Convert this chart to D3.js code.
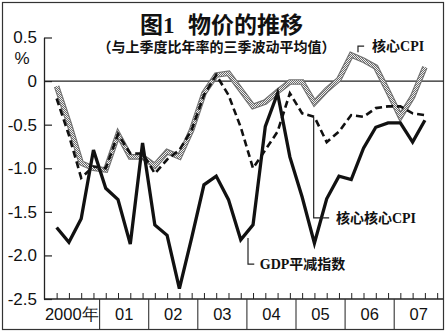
<!DOCTYPE html>
<html>
<head>
<meta charset="utf-8">
<script src="https://cdn.jsdelivr.net/npm/d3@7"></script>
<style>
  html, body { margin: 0; padding: 0; background: #fff; }
  svg { display: block; }
  .num { font-family: "Liberation Sans", Arial, sans-serif; fill: #111; }
  .cjk { font-family: "Liberation Serif", "Noto Sans CJK SC", serif; fill: #111; font-weight: bold; }
</style>
</head>
<body>
<svg id="chart" width="446" height="332"></svg>
<script>
// Quarterly series, 2000Q1 – 2007Q3, % (three-quarter moving average of annualised q/q change)
const coreCPI = [-0.06, -0.48, -0.94, -1.00, -1.02, -0.61, -0.87, -0.87, -0.97, -0.81, -0.87,
                 -0.56, -0.14, 0.07, 0.09, -0.10, -0.29, -0.24, -0.12, -0.01, -0.01, -0.25,
                 -0.10, 0.02, 0.30, 0.24, 0.16, -0.12, -0.41, -0.18, 0.16];
const coreCoreCPI = [-0.20, -0.62, -1.11, -0.98, -1.00, -0.61, -0.83, -0.83, -1.06, -0.90, -0.79,
                     -0.56, -0.16, 0.07, -0.16, -0.53, -1.00, -0.79, -0.58, -0.14, -0.37, -0.41,
                     -0.70, -0.58, -0.39, -0.41, -0.31, -0.29, -0.29, -0.37, -0.39];
const gdpDeflator = [-1.68, -1.85, -1.58, -0.79, -1.23, -1.36, -1.87, -0.71, -1.65, -1.77, -2.38,
                     -1.80, -1.19, -1.09, -1.36, -1.82, -1.65, -0.52, -0.14, -0.87, -1.33, -1.86,
                     -1.35, -1.09, -1.13, -0.77, -0.53, -0.48, -0.48, -0.70, -0.45];
const yearLabels = ["2000年", "01", "02", "03", "04", "05", "06", "07"];
const yTicks = [0.5, 0, -0.5, -1.0, -1.5, -2.0, -2.5];
const yTickLabels = ["0.5", "0", "-0.5", "-1.0", "-1.5", "-2.0", "-2.5"];

const svg = d3.select("#chart");
const axisX = 44, rightX = 443.3, bottomY = 299, frameBottom = 329;

// x: quarter index from 2000Q1 (points sit at quarter centres)
const x = d3.scaleLinear().domain([0, 32]).range([50.5, rightX]);
const y = d3.scaleLinear().domain([-2.5, 0.5]).range([bottomY, 37.5]);

// checkered texture for the core CPI line
const defs = svg.append("defs");
const pat = defs.append("pattern").attr("id", "checker")
  .attr("width", 2).attr("height", 2).attr("patternUnits", "userSpaceOnUse");
pat.append("rect").attr("width", 2).attr("height", 2).attr("fill", "#f0f0f0");
pat.append("rect").attr("width", 1).attr("height", 1).attr("fill", "#6a6a6a");
pat.append("rect").attr("x", 1).attr("y", 1).attr("width", 1).attr("height", 1).attr("fill", "#6a6a6a");

// outer frame
svg.append("rect").attr("x", 2.5).attr("y", 2.5).attr("width", 441).attr("height", 327)
  .attr("fill", "none").attr("stroke", "#333").attr("stroke-width", 1.2);

// title
const title = svg.append("text").attr("class", "cjk").attr("x", 140).attr("y", 33)
  .attr("font-size", 23);
title.append("tspan").text("图1");
title.append("tspan").attr("dx", 13.5).text("物价的推移");
svg.append("text").attr("class", "cjk").attr("x", 216.5).attr("y", 52)
  .attr("text-anchor", "middle").attr("font-size", 14)
  .text("（与上季度比年率的三季波动平均值）");

// y axis (ticks point into the plot)
const yAxis = d3.axisLeft(y).tickValues(yTicks)
  .tickFormat((d, i) => yTickLabels[i])
  .tickSizeInner(-8).tickSizeOuter(0).tickPadding(7);
const gy = svg.append("g").attr("transform", `translate(${axisX},0)`).call(yAxis);
gy.select(".domain").attr("stroke", "#222").attr("stroke-width", 1.3);
gy.selectAll(".tick line").attr("stroke", "#222").attr("stroke-width", 1.2);
gy.selectAll(".tick text").attr("class", "num").attr("font-size", 17).attr("fill", "#111");
svg.append("text").attr("class", "num").attr("x", 22).attr("y", 64)
  .attr("text-anchor", "middle").attr("font-size", 17).text("%");

// zero line
svg.append("line").attr("x1", axisX).attr("x2", rightX).attr("y1", y(0)).attr("y2", y(0))
  .attr("stroke", "#222").attr("stroke-width", 1.4);

// x axis: quarterly ticks pointing up, year bands below
const xAxis = d3.axisBottom(x).tickValues(d3.range(32).map(q => q + 0.5))
  .tickFormat("").tickSizeInner(-6).tickSizeOuter(0);
const gx = svg.append("g").attr("transform", `translate(0,${bottomY})`).call(xAxis);
gx.select(".domain").remove();
gx.selectAll(".tick line").attr("stroke", "#222").attr("stroke-width", 1);
svg.append("line").attr("x1", axisX).attr("x2", rightX).attr("y1", bottomY).attr("y2", bottomY)
  .attr("stroke", "#222").attr("stroke-width", 1.3);

const years = yearLabels.map((label, i) => ({
  label,
  x0: i === 0 ? axisX : x(i * 4),
  x1: x((i + 1) * 4)
}));
svg.selectAll("line.yeardiv").data(years.slice(0, -1)).join("line")
  .attr("class", "yeardiv")
  .attr("x1", d => d.x1).attr("x2", d => d.x1)
  .attr("y1", bottomY).attr("y2", frameBottom)
  .attr("stroke", "#333").attr("stroke-width", 1.1);
svg.selectAll("text.year").data(years).join("text")
  .attr("class", "num year")
  .attr("x", d => (d.x0 + d.x1) / 2).attr("y", 319.5)
  .attr("text-anchor", "middle").attr("font-size", 16.5)
  .text(d => d.label);

// series
const line = d3.line().x((d, i) => x(i + 0.5)).y(d => y(d));
const paths = svg.append("g").attr("fill", "none")
  .attr("stroke-linejoin", "miter").attr("stroke-linecap", "butt");
paths.append("path").datum(coreCPI).attr("d", line)
  .attr("stroke", "#707070").attr("stroke-width", 5.6);
paths.append("path").datum(coreCPI).attr("d", line)
  .attr("stroke", "url(#checker)").attr("stroke-width", 3.4);
paths.append("path").datum(coreCoreCPI).attr("d", line)
  .attr("stroke", "#111").attr("stroke-width", 2.6).attr("stroke-dasharray", "7,4");
paths.append("path").datum(gdpDeflator).attr("d", line)
  .attr("stroke", "#111").attr("stroke-width", 3.3);

// series labels with leader lines (positions in data units)
const notes = [
  { text: "核心CPI", qx: 25.05, v0: 0.33, v1: 0.40, qEnd: 25.55, qText: 26.2, baseDy: 5 },
  { text: "核心核心CPI", qx: 21.44, v0: -0.41, v1: -1.57, qEnd: 22.7, qText: 23.25, baseDy: 5 },
  { text: "GDP平减指数", qx: 16.09, v0: -1.80, v1: -2.10, qEnd: 16.6, qText: 17.05, baseDy: 5 }
];
svg.selectAll("path.leader").data(notes).join("path")
  .attr("class", "leader").attr("fill", "none").attr("stroke", "#222").attr("stroke-width", 1.2)
  .attr("d", d => `M${x(d.qx)},${y(d.v0)}V${y(d.v1)}H${x(d.qEnd)}`);
svg.selectAll("text.note").data(notes).join("text")
  .attr("class", "cjk note").attr("font-size", 14)
  .attr("x", d => x(d.qText)).attr("y", d => y(d.v1) + d.baseDy)
  .text(d => d.text);
</script>
</body>
</html>
